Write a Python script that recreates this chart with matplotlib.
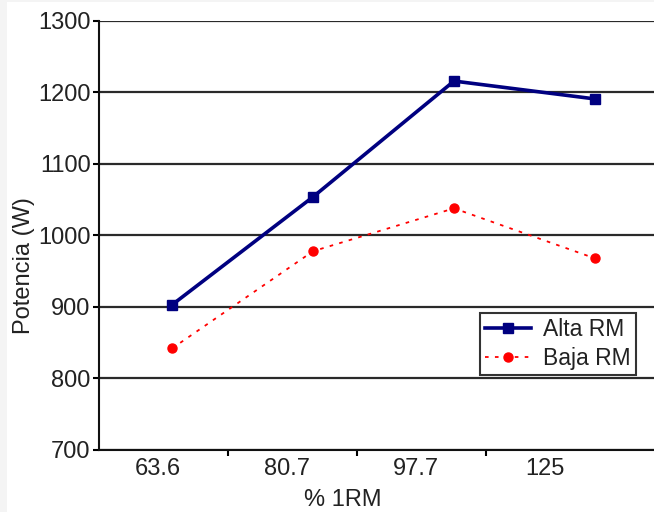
import matplotlib
matplotlib.use('Agg')
import matplotlib.pyplot as plt
from matplotlib.patches import Rectangle

# Datos
categorias = ['63.6', '80.7', '97.7', '125']
alta_rm = [903, 1054, 1216, 1191]
baja_rm = [842, 978, 1038, 968]

plt.rcParams['font.family'] = ['Liberation Sans', 'DejaVu Sans']

fig = plt.figure(figsize=(6.54, 5.12), dpi=100)
fig.patch.set_facecolor('#f4f4f4')
# zona blanca del gráfico (borde gris arriba e izquierda)
fig.patches.append(Rectangle((7 / 654, 0), 1, 1 - 2 / 512,
                             transform=fig.transFigure, facecolor='white',
                             edgecolor='none', zorder=-5))

ax = fig.add_axes([99 / 654, 1 - 450 / 512, (660 - 99) / 654, (450 - 21) / 512])
ax.set_zorder(2)
ax.set_facecolor('white')

x = list(range(len(categorias)))
ax.plot(x, alta_rm, '-s', color='#000080', lw=2.6, ms=6.5,
        label='Alta RM', zorder=3, clip_on=False)
ax.plot(x, baja_rm, 'o', ls=(0, (2, 3.5)), color='#ff0000', lw=1.3, ms=6.5,
        label='Baja RM', zorder=3, clip_on=False)

# escala x: separación de etiquetas distinta de la de los puntos
x0 = -0.518
paso = 0.915
ax.set_xlim(x0, 3.461)
ax.set_xticks([x0 + paso * k for k in range(1, 4)])
ax.set_xticklabels([])
ax.set_xticks([x0 + 0.418 + paso * k for k in range(4)], minor=True)
ax.set_xticklabels(categorias, minor=True)
ax.tick_params(axis='x', which='major', direction='out', length=4, width=1.5)
ax.tick_params(axis='x', which='minor', length=0, pad=6, labelsize=17, labelcolor='#222222')

ax.set_ylim(700, 1300)
ax.set_yticks(range(700, 1301, 100))
ax.tick_params(axis='y', direction='out', length=4, width=1.5, pad=2,
               labelsize=17, labelcolor='#222222')

ax.yaxis.grid(True, color='#2a2a2a', lw=1.6)
ax.set_axisbelow(True)
for s in ['top', 'right']:
    ax.spines[s].set_visible(False)
for s in ['left', 'bottom']:
    ax.spines[s].set_linewidth(1.5)
    ax.spines[s].set_color('#111111')

ax.set_xlabel('% 1RM', fontsize=17, color='#222222')
ax.xaxis.set_label_coords((343 - 99) / 561, -(489 - 450) / 429)
ax.set_ylabel('Potencia (W)', fontsize=17, color='#222222')
ax.yaxis.set_label_coords(-(99 - 35) / 561, (450 - 266) / 429)

leg = ax.legend(loc='upper left', bbox_to_anchor=(480 / 654, 1 - 313 / 512),
                bbox_transform=fig.transFigure, fontsize=16.5, frameon=True,
                fancybox=False, shadow=False, borderpad=0.22, labelspacing=0.25,
                handlelength=2.0, handletextpad=0.55, borderaxespad=0)
leg.get_frame().set_edgecolor('black')
leg.get_frame().set_linewidth(1.5)
for t in leg.get_texts():
    t.set_color('#222222')

fig.savefig('out.png', dpi=100, facecolor=fig.get_facecolor())
